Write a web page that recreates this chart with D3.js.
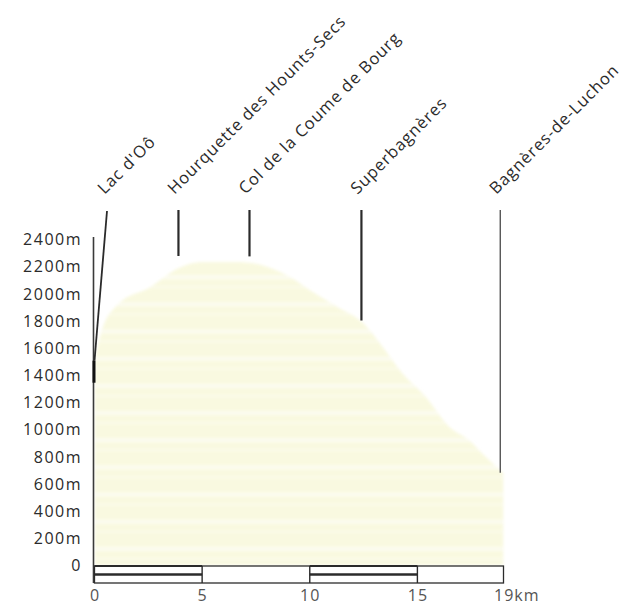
<!DOCTYPE html>
<html><head><meta charset="utf-8">
<script src="https://cdn.jsdelivr.net/npm/d3@7"></script>
<style>body{margin:0;background:#fff}svg{display:block}</style>
</head><body><svg id="c" width="624" height="608"></svg>
<script>
// ---- data ----
const profileKm   = [0, 0.3, 1.05, 2.6, 3.9, 4.9, 6.8, 9.1, 10, 11.3, 12.5, 13.4, 14.3, 15.4, 16.5, 17.4, 18.0, 19.0];
const profileElev = [1504, 1710, 1914, 2047, 2186, 2230, 2230, 2120, 2025, 1900, 1780, 1605, 1413, 1237, 1016, 920, 825, 677];
const placeNames = ["Lac d'Oô", "Hourquette des Hounts-Secs", "Col de la Coume de Bourg", "Superbagnères", "Bagnères-de-Luchon"];
const placeKm    = [0, 3.9, 7.2, 12.4, 18.85];
const placeElev  = [1504, 2275, 2272, 1800, 680];
const yTicks      = [0, 200, 400, 600, 800, 1000, 1200, 1400, 1600, 1800, 2000, 2200, 2400];
const yTickLabels = ["0", "200m", "400m", "600m", "800m", "1000m", "1200m", "1400m", "1600m", "1800m", "2000m", "2200m", "2400m"];
const xTicks      = [0, 5, 10, 15, 19];
const xTickLabels = ["0", "5", "10", "15", "19km"];
const scaleDarkFrom = [0, 10];
const scaleDarkTo   = [5, 15];

// ---- layout ----
const svg = d3.select("#c");
const x = d3.scaleLinear().domain([0, 19]).range([94.5, 503.5]);
const y = d3.scaleLinear().domain([0, 2400]).range([565, 239]);
const ink = "#2b2b2b";
const markerTop = 210;
const barTop = 566, barBottom = 583, barMid = 574.5;

const profile = profileKm.map((k, i) => ({km: k, elev: profileElev[i]}));

const defs = svg.append("defs");
defs.append("filter").attr("id", "soft").attr("x", "-5%").attr("y", "-5%").attr("width", "110%").attr("height", "110%")
  .append("feGaussianBlur").attr("stdDeviation", 1.6);

// profile area with faint horizontal bands
const area = d3.area().x(d => x(d.km)).y0(y(0)).y1(d => y(d.elev)).curve(d3.curveMonotoneX);
defs.append("clipPath").attr("id", "clipArea").append("path").attr("d", area(profile));
const outer = svg.append("g").attr("filter", "url(#soft)");
const g = outer.append("g").attr("clip-path", "url(#clipArea)");
g.append("path").attr("d", area(profile)).attr("fill", "#f9f9e0");
const bandLevels = d3.range(0, 2400, 200);
g.selectAll("rect.band").data(bandLevels).join("rect")
  .attr("class", "band")
  .attr("x", x(0)).attr("width", x(19) - x(0))
  .attr("y", d => y(d + 200) + 9).attr("height", 4)
  .attr("fill", "#fcfcf0");
g.selectAll("rect.band2").data(bandLevels).join("rect")
  .attr("class", "band2")
  .attr("x", x(0)).attr("width", x(19) - x(0))
  .attr("y", d => y(d + 200) + 20).attr("height", 2)
  .attr("fill", "#fbfbeb");

// y axis labels
const yAxis = d3.axisLeft(y).tickValues(yTicks).tickFormat((d, i) => yTickLabels[i]).tickSize(0).tickPadding(0);
const ya = svg.append("g").attr("transform", "translate(82,0)").call(yAxis);
ya.select(".domain").remove();
ya.selectAll("text").attr("font-family", "'Open Sans', sans-serif").attr("font-size", 16)
  .attr("letter-spacing", "1.5px").attr("fill", ink).attr("dy", "0.36em");

// vertical axis line
svg.append("line").attr("x1", x(0) - 1).attr("x2", x(0) - 1).attr("y1", y(2400) - 2).attr("y2", barBottom)
  .attr("stroke", "#3a3a3a").attr("stroke-width", 1.6);

// scale bar
svg.append("rect").attr("x", x(0)).attr("y", barTop).attr("width", x(19) - x(0)).attr("height", barBottom - barTop)
  .attr("fill", "none").attr("stroke", ink).attr("stroke-width", 1.3);
scaleDarkFrom.forEach((a, i) => {
  const b = scaleDarkTo[i];
  svg.append("line").attr("x1", x(a)).attr("x2", x(b)).attr("y1", barMid).attr("y2", barMid)
    .attr("stroke", ink).attr("stroke-width", 2.6);
  svg.append("line").attr("x1", x(a)).attr("x2", x(b)).attr("y1", barTop).attr("y2", barTop)
    .attr("stroke", ink).attr("stroke-width", 2.2);
});
xTicks.slice(1, -1).forEach(t => {
  svg.append("line").attr("x1", x(t)).attr("x2", x(t)).attr("y1", barTop).attr("y2", barBottom)
    .attr("stroke", ink).attr("stroke-width", 1.4);
});

// x axis labels
const xAxis = d3.axisBottom(x).tickValues(xTicks).tickFormat((d, i) => xTickLabels[i]).tickSize(0).tickPadding(0);
const xa = svg.append("g").attr("transform", `translate(0,${barBottom})`).call(xAxis);
xa.select(".domain").remove();
xa.selectAll("text").attr("font-family", "'Open Sans', sans-serif").attr("font-size", 16)
  .attr("fill", "#555").attr("y", 18).attr("dy", 0).attr("letter-spacing", "1px");
xa.selectAll("text").filter((d, i) => i === xTicks.length - 1).attr("text-anchor", "start").attr("x", -10);

// place markers
placeNames.forEach((name, i) => {
  const px = x(placeKm[i]), py = y(placeElev[i]);
  if (i === 0) {
    svg.append("line").attr("x1", px + 12.5).attr("y1", markerTop + 1).attr("x2", px).attr("y2", py)
      .attr("stroke", ink).attr("stroke-width", 1.8);
    svg.append("line").attr("x1", px - 0.5).attr("y1", py).attr("x2", px - 0.5).attr("y2", py + 22)
      .attr("stroke", "#111").attr("stroke-width", 3);
  } else {
    svg.append("line").attr("x1", px).attr("x2", px).attr("y1", markerTop).attr("y2", py)
      .attr("stroke", i === 4 ? "#555" : ink).attr("stroke-width", i === 4 ? 1.4 : 2.2);
  }
  const tx = (i === 0 ? px + 10 : px - 4), ty = 195;
  svg.append("text").attr("transform", `translate(${tx},${ty}) rotate(-45)`)
    .attr("font-family", "'Open Sans', sans-serif").attr("font-size", 16.5)
    .attr("letter-spacing", "0.9px").attr("fill", ink).text(name);
});
</script></body></html>
